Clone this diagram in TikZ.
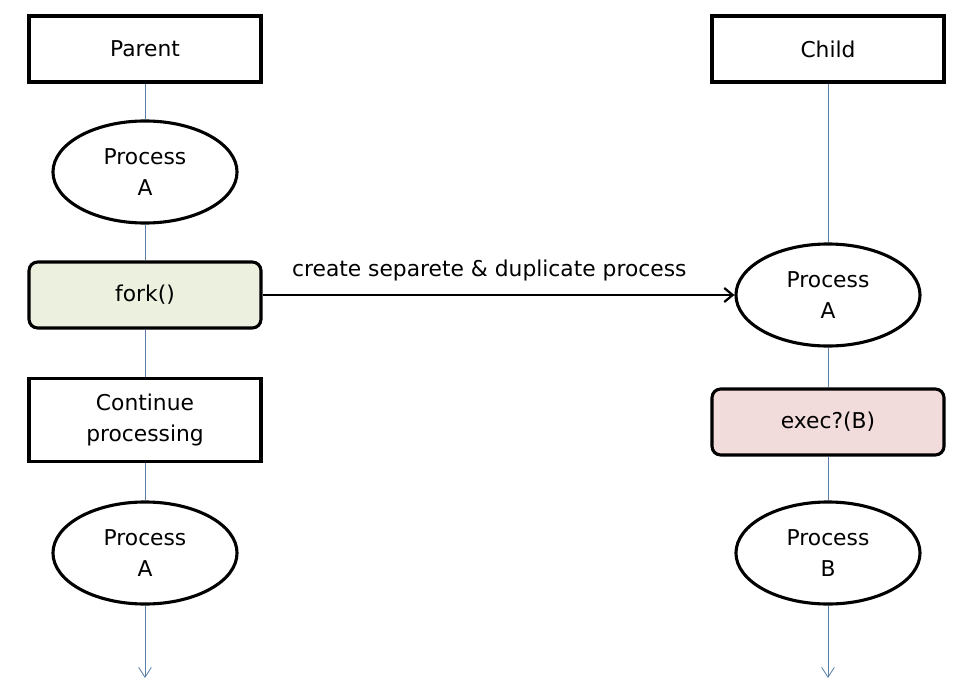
\documentclass[tikz,border=0pt]{standalone}
\usepackage{fontspec}
\setmainfont{DejaVu Sans}
\usepackage{tikz}
\usetikzlibrary{arrows.meta, shapes.geometric}
\usepackage[dvipsnames]{xcolor}

\definecolor{lifeblue}{HTML}{5B7FA8}
\definecolor{forkgreen}{HTML}{EBF1DE}
\definecolor{execpink}{HTML}{F2DCDB}

\tikzset{
    headbox/.style={draw, line width=2.2pt, minimum width=5.8cm, minimum height=1.65cm, fill=white, font=\fontsize{15.5}{21}\selectfont},
    callbox/.style={headbox, rounded corners=0.22cm},
    procnode/.style={draw, ellipse, line width=2.2pt, minimum width=4.6cm, minimum height=2.55cm, inner sep=0pt, fill=white, align=center, font=\fontsize{15.5}{21.5}\selectfont},
    lifeline/.style={lifeblue, line width=0.6pt}
}

\begin{document}
\begin{tikzpicture}[x=0.025cm, y=-0.025cm]
        \useasboundingbox (0,0) rectangle (961,690);

        % parent side
        \node[headbox] (parent) at (145,49) {Parent};
        \node[procnode] (pa1) at (145,172) {Process\\A};
        \node[callbox, fill=forkgreen] (fork) at (145,295) {fork()};
        \node[headbox, minimum height=2.07cm, align=center, font=\fontsize{15.5}{22}\selectfont] (cont) at (145,420) {Continue\\processing};
        \node[procnode] (pa2) at (145,553) {Process\\A};
        \coordinate (pend) at (145,678);

        % child side
        \node[headbox] (child) at (828,49) {Child};
        \node[procnode] (pa3) at (828,295) {Process\\A};
        \node[callbox, fill=execpink] (exec) at (828,422) {exec?(B)};
        \node[procnode] (pb) at (828,553) {Process\\B};
        \coordinate (cend) at (828,678);

        % lifelines
        \draw[lifeline] (parent) -- (pa1);
        \draw[lifeline] (pa1) -- (fork);
        \draw[lifeline] (fork) -- (cont);
        \draw[lifeline] (cont) -- (pa2);
        \draw[lifeline, -{Straight Barb[length=7pt, width=9pt]}] (pa2) -- (pend);
        \draw[lifeline] (child) -- (pa3);
        \draw[lifeline] (pa3) -- (exec);
        \draw[lifeline] (exec) -- (pb);
        \draw[lifeline, -{Straight Barb[length=7pt, width=9pt]}] (pb) -- (cend);

        \draw[line width=1.6pt, -{Straight Barb[length=6pt, width=10pt]}] (fork) -- node[above=6pt, xshift=-0.23cm, font=\fontsize{15.5}{18}\selectfont] {create separete \& duplicate process} (pa3);
    \end{tikzpicture}
\end{document}
